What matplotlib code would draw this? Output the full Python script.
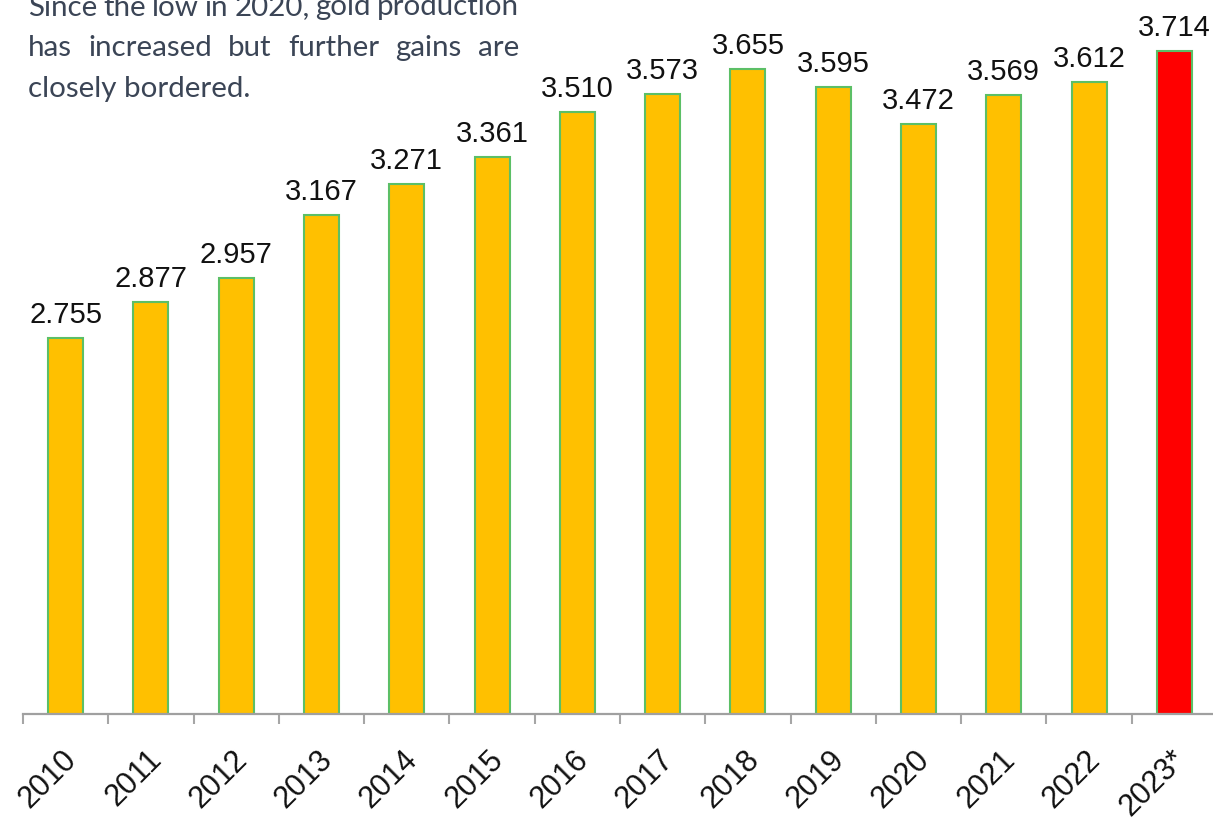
import matplotlib
matplotlib.use('Agg')
import matplotlib.pyplot as plt
import numpy as np
from matplotlib.font_manager import FontProperties
from matplotlib.transforms import ScaledTranslation

# ---- data ----
years = ['2010', '2011', '2012', '2013', '2014', '2015', '2016', '2017',
         '2018', '2019', '2020', '2021', '2022', '2023*']
production = [2.755, 2.877, 2.957, 3.167, 3.271, 3.361, 3.510, 3.573,
              3.655, 3.595, 3.472, 3.569, 3.612, 3.714]
value_labels = ['2.755', '2.877', '2.957', '3.167', '3.271', '3.361', '3.510',
                '3.573', '3.655', '3.595', '3.472', '3.569', '3.612', '3.714']
note_lines = ["Since the low in 2020, gold production",
              "has increased but further gains are",
              "closely bordered."]

W, H = 1213, 819
fig = plt.figure(figsize=(W / 100, H / 100), dpi=100)
ax = fig.add_axes([23 / W, 105 / H, (1217 - 23) / W, 714 / H])

x = np.arange(len(years))
colors = ['#FFC000'] * (len(years) - 1) + ['#FF0000']
bars = ax.bar(x, production, width=0.41, color=colors,
              edgecolor='#5cbf66', linewidth=1.5, zorder=1)

ax.set_xlim(-0.5, len(years) - 0.5)
ax.set_ylim(1.5, 1.5 + 714 / 299.3)

for s in ['top', 'left', 'right']:
    ax.spines[s].set_visible(False)
ax.spines['bottom'].set_color('#a0a0a0')
ax.spines['bottom'].set_linewidth(1.6)
ax.set_yticks([])

ax.set_xticks(x)
ax.set_xticks(np.arange(-0.5, len(years), 1.0), minor=True)
ax.tick_params(axis='x', which='major', length=0, pad=22)
ax.tick_params(axis='x', which='minor', length=7.5, width=1.5, color='#a6a6a6')
ax.set_xticklabels(years, rotation=45, ha='right', rotation_mode='anchor',
                   fontsize=22, fontfamily='Liberation Sans', color='#111111')
shift = ScaledTranslation(-4 / 100, 0, fig.dpi_scale_trans)
for lab in ax.get_xticklabels():
    lab.set_transform(lab.get_transform() + shift)

for xi, v, lab in zip(x, production, value_labels):
    ax.annotate(lab, (xi, v), xytext=(0, 10.8), textcoords='offset points',
                ha='center', va='baseline', fontsize=21,
                fontfamily='Liberation Sans', color='#111111')

# ---- justified note text ----
fig.canvas.draw()
r = fig.canvas.get_renderer()
fp = FontProperties(family='Lato', size=20)


def tw(s, prop):
    t = fig.text(0, 0, s, fontproperties=prop)
    w = t.get_window_extent(r).width
    t.remove()
    return w

scale = 222 / tw(note_lines[2], fp)
fp = FontProperties(family='Lato', size=20 * scale)

left, right = 28, 519
baselines = [15.5, 56, 96.5]
tcol = '#3b4556'
for i, (line, b) in enumerate(zip(note_lines, baselines)):
    yf = 1 - b / H
    if i < 2:
        words = line.split()
        ws = [tw(w_, fp) for w_ in words]
        gap = (right - left - sum(ws)) / (len(words) - 1)
        xp = left
        for w_, wd in zip(words, ws):
            fig.text(xp / W, yf, w_, fontproperties=fp, color=tcol,
                     ha='left', va='baseline')
            xp += wd + gap
    else:
        fig.text(left / W, yf, line, fontproperties=fp, color=tcol,
                 ha='left', va='baseline')

fig.savefig('out.png', dpi=100)
